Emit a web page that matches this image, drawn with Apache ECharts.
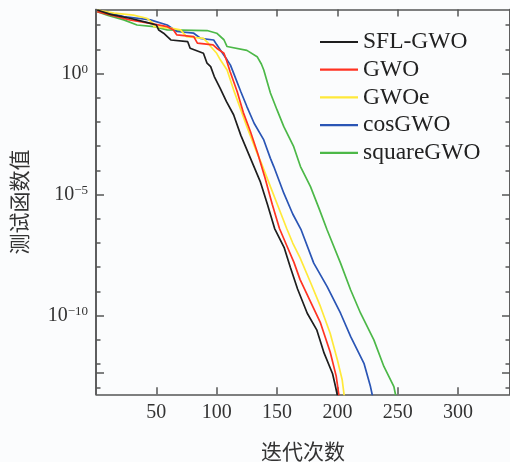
<!DOCTYPE html>
<html><head><meta charset="utf-8">
<script src="https://cdn.jsdelivr.net/npm/echarts@6/dist/echarts.min.js"></script>
<style>html,body{margin:0;padding:0;background:#fbfcfd}#c{width:510px;height:462px}</style>
</head><body><div id="c"></div>
<script>
// Series names and colours
const seriesNames = ['SFL-GWO', 'GWO', 'GWOe', 'cosGWO', 'squareGWO'];
const seriesColors = ['#1e1e1e', '#ff3322', '#ffe93a', '#2a55b5', '#4cb848'];

// Iterations and log10(best fitness)
const sflIter = [1, 12, 28, 42, 50, 52, 56, 62, 76, 78, 89, 92, 95, 98, 103, 108, 114, 120, 128, 136, 142, 148, 156, 161, 167, 175, 183, 189, 196, 198.5, 200, 201];
const sflLog  = [2.63, 2.45, 2.29, 2.12, 2.01, 1.8, 1.67, 1.39, 1.32, 1.05, 0.84, 0.43, 0.29, -0.12, -0.62, -1.15, -1.7, -2.55, -3.5, -4.45, -5.4, -6.4, -7.2, -8.0, -8.9, -9.9, -10.6, -11.55, -12.4, -12.95, -13.3, -13.6];

const gwoIter = [1, 15, 28, 45, 59, 64, 67, 81, 84, 97, 100, 106, 108, 111, 117, 122, 128, 134, 140, 146, 152, 158, 164, 169, 177, 186, 194, 199, 201, 202];
const gwoLog  = [2.56, 2.38, 2.22, 2.08, 1.94, 1.81, 1.6, 1.53, 1.26, 1.19, 1.05, 0.84, 0.57, 0.1, -0.75, -1.6, -2.4, -3.3, -4.3, -5.4, -6.4, -7.1, -7.8, -8.5, -9.35, -10.3, -11.5, -12.5, -13.2, -13.6];

const gwoeIter = [1, 15, 31, 42, 47, 48, 62, 70, 75, 89, 93, 95, 100, 103, 108.6, 114, 118, 125, 133.5, 137, 144.5, 151, 158, 163, 169, 178, 186, 194, 200, 204, 205.5, 206.5];
const gwoeLog  = [2.63, 2.5, 2.42, 2.29, 2.1, 1.94, 1.88, 1.81, 1.53, 1.46, 1.26, 1.12, 0.84, 0.57, 0.15, -0.67, -1.22, -2.19, -3.29, -3.7, -4.67, -5.5, -6.4, -7.0, -7.6, -8.66, -9.63, -10.73, -11.83, -12.66, -13.25, -13.6];

const cosIter = [1, 12, 23, 45, 59, 67, 81, 86.5, 97.5, 100, 103, 108.6, 111.4, 114, 120, 125, 131, 139, 144.5, 147.3, 155.6, 163, 170, 180.4, 191.5, 202.6, 211, 222, 227.4, 229, 230];
const cosLog  = [2.63, 2.5, 2.36, 2.22, 2.01, 1.74, 1.67, 1.46, 1.39, 1.2, 0.98, 0.57, 0.35, 0.02, -0.75, -1.36, -2.05, -2.74, -3.5, -3.84, -4.94, -5.8, -6.46, -7.83, -8.8, -9.9, -10.87, -11.97, -12.93, -13.3, -13.6];

const sqIter = [1, 10, 23, 34, 48, 59, 92, 100, 106, 108.6, 125, 133.5, 137, 139, 144.5, 150, 155.6, 163.8, 169.4, 177.7, 185, 191.5, 202.6, 210.9, 219.2, 230.2, 238.5, 246.8, 248.3, 249];
const sqLog  = [2.56, 2.4, 2.22, 2.01, 1.94, 1.81, 1.78, 1.67, 1.4, 1.12, 0.96, 0.7, 0.4, 0.15, -0.8, -1.5, -2.19, -3.02, -3.84, -4.67, -5.6, -6.46, -7.83, -8.93, -9.9, -11.0, -12.1, -12.93, -13.3, -13.6];

// Tick positions / labels
const xTickLabels = [50, 100, 150, 200, 250, 300];
const yMinorTicks = [2, 1, 0, -1, -2, -3, -4, -5, -6, -7, -8, -9, -10, -11, -12, -13];
const yMajorTicks = [0, -5, -10, -12.38];
const yLabelExps = [0, -5, -10];

const iters = [sflIter, gwoIter, gwoeIter, cosIter, sqIter];
const logs = [sflLog, gwoLog, gwoeLog, cosLog, sqLog];

const axisColor = '#555';
const labelColor = '#333';
const serif = 'Liberation Serif';

function pairs(xs, ys) { return xs.map((x, i) => [x, ys[i]]); }

const xBase = {
  type: 'value', min: 0, max: 343, gridIndex: 0,
  axisLine: { show: true, onZero: false, lineStyle: { color: axisColor, width: 1.5 } },
  axisTick: { show: true, inside: true, length: 7, customValues: xTickLabels, lineStyle: { color: axisColor, width: 1.5 } },
  splitLine: { show: false }
};
const yBase = {
  type: 'value', min: -13.25, max: 2.65, gridIndex: 0,
  axisLine: { show: true, onZero: false, lineStyle: { color: axisColor, width: 1.5 } },
  splitLine: { show: false }
};
function supLabel(v) {
  const e = Math.round(v);
  return '{b|10}{s|' + (e < 0 ? '\u2212' + (-e) : String(e)) + '}';
}

const option = {
  backgroundColor: '#fbfcfd',
  animation: false,
  grid: { left: 96, right: 0, top: 9.5, bottom: 67.7, containLabel: false, outerBoundsMode: 'none' },
  legend: {
    orient: 'vertical', left: 320, top: 30, padding: 0,
    icon: 'rect', itemWidth: 38, itemHeight: 2.2, itemGap: 3.7,
    textStyle: { fontFamily: serif, fontSize: 23.5, lineHeight: 23, color: '#222' },
    data: seriesNames
  },
  xAxis: [
    Object.assign({}, xBase, {
      position: 'bottom',
      axisLabel: {
        margin: 8, fontFamily: serif, fontSize: 20, color: labelColor,
        customValues: xTickLabels, formatter: v => String(v)
      },
      name: '迭代次数', nameLocation: 'middle', nameGap: 46,
      nameTextStyle: { fontFamily: 'Noto Sans CJK SC', fontSize: 21, color: labelColor }
    }),
    Object.assign({}, xBase, { position: 'top', axisLabel: { show: false } })
  ],
  yAxis: [
    Object.assign({}, yBase, {
      position: 'left',
      axisTick: { show: true, inside: true, length: 4.5, customValues: yMinorTicks, lineStyle: { color: axisColor, width: 1.5 } },
      axisLabel: {
        show: true, margin: 8, color: labelColor,
        customValues: yLabelExps, formatter: supLabel,
        rich: {
          b: { fontFamily: serif, fontSize: 20, lineHeight: 22, color: labelColor },
          s: { fontFamily: serif, fontSize: 13, lineHeight: 13, verticalAlign: 'top', color: labelColor }
        }
      },
      name: '测试函数值', nameLocation: 'middle', nameRotate: 90, nameGap: 66,
      nameTextStyle: { fontFamily: 'Noto Sans CJK SC', fontSize: 21, color: labelColor }
    }),
    Object.assign({}, yBase, {
      position: 'left',
      axisTick: { show: true, inside: true, length: 8, customValues: yMajorTicks, lineStyle: { color: axisColor, width: 1.5 } },
      axisLabel: { show: false }
    }),
    Object.assign({}, yBase, {
      position: 'right',
      axisTick: { show: true, inside: true, length: 4.5, customValues: yMinorTicks, lineStyle: { color: axisColor, width: 1.5 } },
      axisLabel: { show: false }
    }),
    Object.assign({}, yBase, {
      position: 'right',
      axisTick: { show: true, inside: true, length: 8, customValues: yMajorTicks, lineStyle: { color: axisColor, width: 1.5 } },
      axisLabel: { show: false }
    })
  ],
  series: seriesNames.map((name, i) => ({
    name: name, type: 'line', xAxisIndex: 0, yAxisIndex: 0,
    data: pairs(iters[i], logs[i]),
    showSymbol: false, symbol: 'none', clip: true,
    color: seriesColors[i],
    lineStyle: { color: seriesColors[i], width: 1.7 },
    z: 10 - i
  }))
};

const chart = echarts.init(document.getElementById('c'), null, { renderer: 'canvas' });
chart.setOption(option);
</script>
</body></html>
